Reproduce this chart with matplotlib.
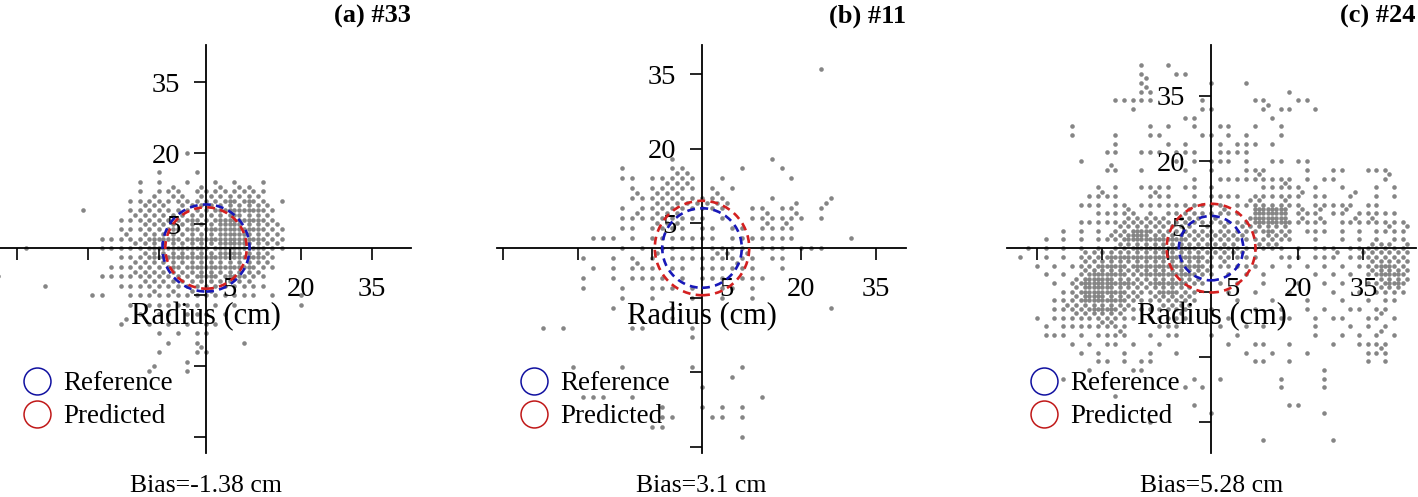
import numpy as np
import matplotlib.pyplot as plt
from matplotlib.lines import Line2D
from matplotlib.patches import Circle

plt.rcParams['font.family'] = ['Liberation Serif', 'DejaVu Serif']

TITLES = ['(a) #33', '(b) #11', '(c) #24']
BIAS = ['Bias=-1.38 cm', 'Bias=3.1 cm', 'Bias=5.28 cm']
R_REF = [9.2, 8.0, 7.4]     # cm
R_PRED = [8.6, 9.5, 10.2]   # cm
TICKS = [-40, -25, -10, 5, 20, 35]
TICK_LABELS = ['', '', '', '5', '20', '35']

# scatter, per row y (cm): "x:n" = n dots in the 2x2 cm cell at x,
# "a..b:n" = same count for every cell from a to b
DOTS_A = {
    20: "-4:1",
    16: "-10:1 -2:1",
    14: "-14:1 -10:1 -4:1 2:1 6:1 12:1",
    12: "-14:1 -10:1 -8:2 -6:1 -2:2 0:1 2:2 4:1 6:2 8:2 10:1 12:1",
    10: "-16:1 -14:1 -12:2 -10:1 -8:2 -6:2 -4:1 -2:2 0:2 2:2 4:3 6:2 8:3 10:2 12:1 16:1",
    8: "-26:1 -16:1 -14:2 -12:2 -10:2 -8:1 -6:2 -4:2 -2:2 0:2 2:3 4..10:3 12:2 14:1",
    6: "-18:1 -16..-6:2 -4:3 -2:2 0:2 2:3 4:3 6:4 8:3 10:3 12:2 14:1",
    4: "-18:1 -16:1 -14:2 -12:2 -10:2 -8:3 -6:2 -4:3 -2:2 0:3 2:3 4:4 6:4 8:3 10:3 12:2 14:2 16:1",
    2: "-22:1 -20:1 -18:2 -16:1 -14:2 -12..-8:3 -6:2 -4..2:3 4..8:4 10:3 12:2 14:2 16:1",
    0: "-38:1 -22:1 -20:1 -18:1 -16:2 -14:2 -12..-2:3 0:2 2:3 4..8:4 10:3 12:2 14:2 16:1",
    -2: "-18:1 -16:1 -14:2 -12..2:3 4:4 6:4 8:3 10:3 12:2 14:1",
    -4: "-20:1 -18:1 -16..-10:2 -8:3 -6:2 -4..8:3 10:2 12:2 14:1",
    -6: "-44:1 -22:1 -20:1 -18:1 -16..-4:2 -2:3 0:3 2:2 4:3 6:3 8:2 10:2 12:1",
    -8: "-34:1 -18:1 -16:1 -14..8:2 10:1 12:1",
    -10: "-24:1 -22:1 -16:1 -14:1 -12:2 -10:1 -8:2 -6:1 -4:2 -2:1 0:2 2:1 4:1 6:1 8:1 10:1 14:1 20:1",
    -12: "-16:1 -12:1 -10:1 -8:1 -6:1 -4:1 -2:1 2:1 6:1 20:1",
    -14: "-14:1 -10:1 -8:1 -4:1 -2:1 0:1 4:1",
    -16: "-18:2 -12:1 -8:1 -4:1 0:1 2:1",
    -18: "-10:1 -6:1 -2:1 0:1",
    -20: "-8:1 -2:1 8:1",
    -22: "-10:1 -2:2 0:1",
    -24: "-4:1",
    -26: "-12:2 -4:1",
}

DOTS_B = {
    36: "24:1",
    18: "-6:1 14:1",
    16: "-16:1 -6:1 -4:1 8:1 16:1",
    14: "-16:1 -14:1 -10:1 -8:1 -6:2 -4:2 -2:1 4:1 18:1",
    12: "-14:1 -10:1 -8:2 -6:2 -4:2 -2:1 2:1 6:1",
    10: "-14:2 -12:1 -10:2 -8:2 -6:2 -4:1 -2:1 0:1 2:2 4:1 14:1 26:1",
    8: "-16:1 -12:1 -10..4:2 10:1 12:1 16:1 18:2 24:2",
    6: "-16:1 -14:2 -12:1 -10:2 -8:2 -6:2 -4:1 -2:1 0:1 4:1 10:1 12:2 14:1 16:1 18:2 20:1 24:1",
    4: "-16:1 -14:1 -10:2 -8:2 -6:2 -4:1 0:1 2:1 6:1 8:1 12:2 14:1 16:2 18:1",
    2: "-22:1 -20:1 -18:1 -14:1 -10..2:1 6..18:1 30:1",
    0: "-16:1 -12:1 -8:1 -6:1 -2:1 2:1 4:1 6:1 8:1 12:1 14:1 16:1 20:1 22:1 24:1",
    -2: "-24:1 -18:1 -14:1 -10:2 -6:1 -4:1 -2:1 0:1 2:2 4:2 6:1 8:2 10:1 14:1 16:1",
    -4: "-22:1 -18:1 -14:2 -12:1 -10:1 -6:1 -4:1 0:1 2:1 4:1 6:2 8:1 10:1 16:1",
    -6: "-24:1 -18:1 -14:1 -12:1 -10:1 -8:1 -4:1 0:1 2:1 4:1 8:1 10:1 12:1",
    -8: "-24:1 -16:1 -10:1 -8:1 -6:1 -2:1 4:1 6:1 10:1",
    -10: "-16:1 -10:1 -2:1 4:1 10:1",
    -12: "-18:1 -6:1 26:1",
    -14: "-6:1",
    -16: "-32:1 -28:1 -14:1 -12:1 -2:1",
    -18: "-2:1",
    -24: "-26:1 -16:1 -2:1 8:1",
    -26: "6:1",
    -28: "0:1",
    -30: "-24:1 -22:1 -20:1 -14:1 12:1",
    -32: "-8:1 0:1 4:1 8:1",
    -34: "-8:1 -6:1 2:1 4:1 8:1",
    -36: "-10:1 -8:1",
    -38: "8:1",
    -42: "-6:1 6:1",
}

DOTS_C = {
    42: "-16:1 -10:1",
    40: "-16:1 -8:1 -6:1",
    38: "-16:2 0:1 8:1",
    36: "-16:2 -14:1 18:1",
    34: "-22:1 -20:1 -18:1 -16:1 -14:1 -2:1 10:1 12:1 20:1 22:1",
    32: "-18:1 -2:1 0:1 12:2 16:1 18:1 24:1",
    30: "-6:1 -4:1 14:1",
    28: "-32:1 -14:1 -10:1 -4:1 2:1 4:1 10:1 16:1",
    26: "-32:1 -22:1 -14:1 -12:1 -2:1 0:1 4:1 8:1 16:1",
    24: "-22:1 -10:1 -6:1 2:1 6:1 8:1 10:1 14:1",
    22: "-24:1 -22:1 -16:1 -14:1 -12:1 -8:1 -6:1 -4:1 2:1 4:1 6:1 8:1",
    20: "-30:1 -8:1 -4:1 0:1 2:1 4:1 8:1 14:1 16:1 20:1 22:1",
    18: "-24:2 -22:1 -16:1 -6:1 0:1 8:1 10:1 12:1 22:1 28:1 30:1 36:1 38:1 40:1",
    16: "-4:1 2:1 4:1 6:1 8:1 10:2 12:1 14:1 16:1 18:1 22:1 26:1 28:1 40:2",
    14: "-26:1 -22:1 -16:1 -14:1 -12:1 -10:1 -6:1 -4:1 0:1 12:1 14:1 16:2 18:1 20:1 24:1 30:1 38:1 42:1",
    12: "-28:1 -26:2 -24:1 -22:1 -14:2 -12:1 -10:1 -4:1 0..6:1 10..18:1 20:2 24:1 26:1 32:2 38:1 42:1",
    10: "-30:1 -28:1 -26:1 -22:1 -20:1 -16..2:1 6:1 8:2 10:2 12:1 14:1 16:2 18:1 20:1 24..32:1 36:1 38:1",
    8: "-26:1 -24:1 -22:1 -20:2 -18:1 -14:1 -10:1 -8:1 -6:2 -4:1 -2:1 0:1 2:2 4:1 6:1 10..16:4 20:2 22:1 24:2 28:1 30:2 34..42:1",
    6: "-30..-22:1 -20..-12:2 -10:1 -8:2 -6:2 -4:2 -2:1 0:2 2:1 4:1 6:1 8:2 10..16:4 18:1 20:2 22:1 24:2 26:1 30:1 32:2 34:1 36:2 38..44:1",
    4: "-34:1 -30:1 -26:1 -22:2 -20:2 -18:3 -16:3 -14..-6:2 -4:1 -2:2 0:1 2:2 4:1 6:2 8:2 10:2 12:3 14:2 16:2 18:1 22:1 24:1 26:1 30:1 34:1 38:1 40:2 42:1 44:2",
    2: "-38:1 -34:1 -30:1 -26:1 -24:2 -22:2 -20:3 -18:4 -16:4 -14..-8:3 -6..6:2 8:1 10:1 12:2 14:2 16:2 18:1 24:1 30:1 34:1 38:1 42:1 44:1",
    0: "-42:1 -38:1 -34:1 -30:1 -26:1 -22:2 -20:2 -18..-6:3 -4..4:2 6:1 8:1 10:2 12:2 14:2 16:1 20:1 24:1 26:1 28:1 32:1 34:1 36..40:2 42:1 44:2",
    -2: "-44:1 -38:1 -34:1 -30:2 -28:2 -26:2 -24..-4:3 -2..6:2 8:1 10:1 16:1 18:1 20:1 24:1 26:1 28:2 32:1 34..44:2",
    -4: "-40:1 -36:1 -32:1 -30:2 -28:2 -26:3 -24:3 -22:3 -20:2 -18..-4:3 -2:2 0:1 2:2 4..10:1 14:1 18:1 22:1 26:1 30:1 34:1 36:2 38:3 40:3 42:2 44:2",
    -6: "-38:1 -34:1 -30:2 -28..-22:3 -20:2 -18:2 -16..-6:3 -4:2 -2:2 0:1 4:1 8:1 12:1 24:1 28:1 32:1 36:2 38..42:3 44:2",
    -8: "-36:1 -32:2 -30:3 -28..-24:4 -22:3 -20:3 -18:2 -16:2 -14..-8:3 -6:2 -4:2 -2:1 2:1 6:1 12:1 20:1 26:1 30:1 36:1 38:2 40:3 42:3 44:2",
    -10: "-34:1 -32:2 -30:3 -28..-24:4 -22:3 -20..-14:2 -12:3 -10:3 -8:2 -6:2 -4:1 4:1 10:1 18:1 28:1 34:1 38..42:2 44:1",
    -12: "-36:1 -34:1 -32:2 -30:3 -28:4 -26:4 -24:3 -22:3 -20:2 -18:2 -16:1 -14..-6:2 -4:1 6:1 14:1 22:1 30:1 36:1 40:1 42:1",
    -14: "-36:1 -34:2 -32:2 -30:2 -28:3 -26:3 -24:3 -22:2 -20:2 -18:1 -16:1 -14:1 -12..-6:2 0:1 10:1 16:1 22:1 26:1 32:1 34:1 38:1 40:1",
    -16: "-40:1 -36:1 -34:1 -32..-22:2 -20:1 -18:1 -14:1 -12:1 -10:1 -8:2 -6:1 4:1 16:1 18:1 24:1 28:1 30:1 36:1 38:2 42:1",
    -18: "-38:1 -34:1 -32:1 -30:1 -28:1 -26:2 -24:2 -22:1 -20:1 -12:1 -10:1 -8:1 2:1 8:1 12:1 24:1 32:1 36:1 40:1",
    -20: "-38:1 -36:1 -34:1 -30:1 -26:1 -24:1 -22:2 -20:1 -14:1 -10:1 -8:1 0:1 6:1 24:1 30:1 34:1 38:2 42:1",
    -22: "-32:1 -28:1 -24:1 -22:1 -18:1 -12:1 4:1 10:1 12:1 18:1 28:1 34..40:1",
    -24: "-30:1 -26:1 -20:1 -14:1 -8:1 8:1 14:1 22:1 36:1 38:2 40:1",
    -26: "-26:1 -24:1 -20:1 -16:1 -14:1 10:1 12:1 18:1 36:1 40:1",
    -28: "-28:1 -18:1 -16:1 26:1",
    -30: "-34:1 -4:1 2:1 16:1 26:1",
    -32: "-6:1 -2:1 16:1 26:1",
    -34: "-22:1",
    -36: "-4:1 18:1 20:1",
    -38: "0:1 26:1",
    -40: "-14:1",
    -44: "12:1 28:1",
}

CELL = [(0, 0), (1, 1), (1, 0), (0, 1)]


def unpack(rows):
    xs, ys = [], []
    for y, line in rows.items():
        for tok in line.split():
            pos, n = tok.split(':')
            if '..' in pos:
                a, b = pos.split('..')
                cols = range(int(a), int(b) + 1, 2)
            else:
                cols = [int(pos)]
            for x in cols:
                for dx, dy in CELL[:int(n)]:
                    xs.append(x + dx)
                    ys.append(y + dy)
    return np.array(xs), np.array(ys)


DOTS = [DOTS_A, DOTS_B, DOTS_C]

W, H = 1418, 497
# axes boxes in pixels (left, width) and limits so the origin sits where it does in the paper
BOXES = [(0, 411), (497, 409), (1007, 409)]
XLIMS = [(-43.55, 43.34), (-41.25, 41.05), (-46.9, 47.1)]
YLIMS = [(-43.34, 42.92), (-41.25, 40.85), (-47.1, 46.7)]

BLUE = '#1818b8'
RED = '#d42020'
GRAY = '#858585'

fig = plt.figure(figsize=(W / 100, H / 100), dpi=100)

for k in range(3):
    left, width = BOXES[k]
    ax = fig.add_axes([left / W, (H - 453) / H, width / W, 408 / H])
    ax.set_xlim(*XLIMS[k])
    ax.set_ylim(*YLIMS[k])

    x, y = unpack(DOTS[k])
    ax.plot(x, y, 'o', ms=3.3, color=GRAY, mec='none', zorder=1)

    ax.add_patch(Circle((0, 0), R_REF[k], fill=False, ec=BLUE, lw=1.9,
                        ls=(0, (3, 2)), zorder=4))
    ax.add_patch(Circle((0, 0), R_PRED[k], fill=False, ec=RED, lw=1.9,
                        ls=(0, (3, 2)), zorder=4))

    for s in ['top', 'right']:
        ax.spines[s].set_visible(False)
    for s in ['left', 'bottom']:
        ax.spines[s].set_position(('data', 0))
        ax.spines[s].set_linewidth(1.3)
        ax.spines[s].set_zorder(3)
    ax.set_xticks(TICKS)
    ax.set_xticklabels(TICK_LABELS)
    ax.set_yticks(TICKS)
    ax.set_yticklabels(TICK_LABELS)
    ax.tick_params(direction='out', length=8.6, width=1.2, labelsize=20.5)
    ax.tick_params(axis='x', pad=12)
    ax.tick_params(axis='y', pad=10)
    ax.patch.set_visible(False)

    ax.text(0.5, 0.335, 'Radius (cm)', transform=ax.transAxes, ha='center',
            va='center', fontsize=22, zorder=5)

    handles = [Line2D([], [], ls='none', marker='o', ms=19.4, mfc='none',
                      mec='#1010a0', mew=1.1, label='Reference'),
               Line2D([], [], ls='none', marker='o', ms=19.4, mfc='none',
                      mec='#c01818', mew=1.1, label='Predicted')]
    ax.legend(handles=handles, loc='upper left', bbox_to_anchor=(0.057, 0.201),
              borderaxespad=0, borderpad=0, frameon=False, fontsize=19.5,
              handlelength=1.0, handletextpad=0.46, labelspacing=0.31)

    cx = (left + width / 2) / W
    fig.text(cx, 1 - 486 / H, BIAS[k], ha='center', va='center', fontsize=18.5)
    fig.text((left + width) / W, 1 - 16 / H, TITLES[k], ha='right', va='center',
             fontsize=19, fontweight='bold')

fig.savefig('out.png', dpi=100)
